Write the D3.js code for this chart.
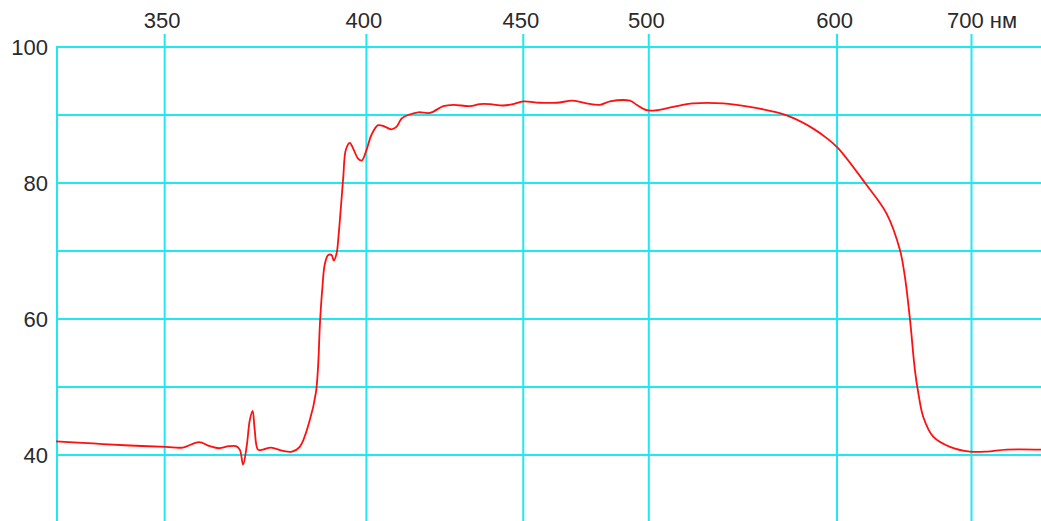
<!DOCTYPE html>
<html>
<head>
<meta charset="utf-8">
<script src="https://cdn.jsdelivr.net/npm/d3@7"></script>
<style>
  html, body { margin: 0; padding: 0; background: #fff; }
  svg { display: block; }
  text { font-family: "Liberation Sans", Arial, sans-serif; fill: #2a2a2a; }
</style>
</head>
<body>
<svg id="chart" width="1041" height="521"></svg>
<script>
// ---- data ----
const wavelengthTicks = [350, 400, 450, 500, 600, 700];
const wavelengthTickLabels = ["350", "400", "450", "500", "600", "700 нм"];
const valueTicks = [40, 60, 80, 100];
const valueGrid = [40, 50, 60, 70, 80, 90, 100];

const wavelength = [
  328.0, 335.2, 342.7, 350.4, 354.1, 357.7, 360.2, 362.3, 364.6, 366.3,
  367.2, 368.0, 368.9, 369.6, 370.3, 370.8, 371.6, 372.8, 374.8, 377.8,
  380.1, 382.1, 384.7, 386.3, 386.9, 387.4, 388.0, 388.7, 389.6, 390.5,
  391.1, 391.9, 392.3, 393.2, 393.7, 394.4, 395.5, 396.4, 397.8, 398.8,
  400.2, 401.6, 403.5, 405.4, 407.4, 408.9, 410.4, 412.3, 415.4, 419.0,
  423.2, 426.4, 431.8, 435.1, 438.5, 443.1, 446.6, 450.2, 456.2, 462.5,
  468.8, 474.1, 479.5, 483.6, 492.0, 494.9, 499.3, 503.7, 511.3, 520.7,
  535.5, 549.4, 562.2, 571.7, 585.5, 593.8, 601.1, 619.8, 633.7, 643.4,
  647.0, 650.8, 654.5, 657.1, 660.9, 668.7, 682.2, 699.1, 713.9, 732.4,
  766.5
];
const transmission = [
  42.0, 41.7, 41.4, 41.2, 41.1, 41.9, 41.3, 41.0, 41.3, 41.3,
  40.8, 38.6, 41.5, 45.1, 46.5, 43.7, 40.8, 40.8, 41.1, 40.6,
  40.5, 41.2, 45.1, 49.1, 53.0, 59.4, 64.3, 68.1, 69.4, 69.4,
  68.6, 69.7, 71.6, 77.5, 80.9, 84.9, 85.9, 85.1, 83.6, 83.3,
  84.9, 87.1, 88.5, 88.3, 87.9, 88.3, 89.5, 90.0, 90.4, 90.3,
  91.3, 91.5, 91.3, 91.6, 91.6, 91.4, 91.6, 92.0, 91.8, 91.8,
  92.1, 91.7, 91.5, 92.0, 92.1, 91.5, 90.7, 90.7, 91.2, 91.7,
  91.7, 91.2, 90.5, 89.75, 88.0, 86.6, 85.1, 79.7, 75.5, 70.1,
  66.2, 59.9, 52.5, 49.1, 45.6, 42.7, 41.2, 40.5, 40.5, 40.8,
  40.8
];

// ---- layout ----
const svg = d3.select("#chart");
const mLeft = 57, mTop = 47, mRight = 1041, mBottom = 521;
const gridColor = "#1ee8f0";

// x is linear in wavenumber (1/λ)
const x = d3.scaleLinear().domain([1 / 328.2, 1 / 766.5]).range([mLeft, mRight]);
const y = d3.scaleLinear().domain([100, 30.3]).range([mTop, mBottom]);

// horizontal grid
svg.append("g").selectAll("line").data(valueGrid).join("line")
  .attr("x1", mLeft).attr("x2", mRight)
  .attr("y1", d => y(d)).attr("y2", d => y(d))
  .attr("stroke", gridColor).attr("stroke-width", 2);

// left axis line
svg.append("line")
  .attr("x1", mLeft).attr("x2", mLeft).attr("y1", mTop - 1).attr("y2", mBottom)
  .attr("stroke", gridColor).attr("stroke-width", 2);

// vertical grid (wavelength ticks) via axis
const xAxis = d3.axisTop(x)
  .tickValues(wavelengthTicks.map(d => 1 / d))
  .tickSize(-(mBottom - 34))
  .tickFormat(() => "");
const gx = svg.append("g").attr("transform", "translate(0,34)").call(xAxis);
gx.select(".domain").remove();
gx.selectAll(".tick line").attr("stroke", gridColor).attr("stroke-width", 2);

// top labels
svg.append("g").selectAll("text").data(wavelengthTicks).join("text")
  .attr("x", (d, i) => i === wavelengthTicks.length - 1 ? x(1 / d) - 24 : x(1 / d) - 2)
  .attr("y", 28)
  .attr("text-anchor", (d, i) => i === wavelengthTicks.length - 1 ? "start" : "middle")
  .attr("font-size", 22)
  .text((d, i) => wavelengthTickLabels[i]);

// left labels
const yAxis = d3.axisLeft(y).tickValues(valueTicks).tickSize(0).tickPadding(9).tickFormat(d3.format("d"));
const gy = svg.append("g").attr("transform", `translate(${mLeft},0)`).call(yAxis);
gy.select(".domain").remove();
gy.selectAll(".tick text").attr("font-size", 22).attr("font-family", "Liberation Sans, Arial, sans-serif").attr("fill", "#2a2a2a");

// curve
const pts = wavelength.map((w, i) => [x(1 / w), y(transmission[i])]);
const line = d3.line().curve(d3.curveCatmullRom.alpha(0.5));
svg.append("path")
  .attr("d", line(pts))
  .attr("fill", "none")
  .attr("stroke", "#ff1010")
  .attr("stroke-width", 1.8)
  .attr("stroke-linejoin", "round");
</script>
</body>
</html>
